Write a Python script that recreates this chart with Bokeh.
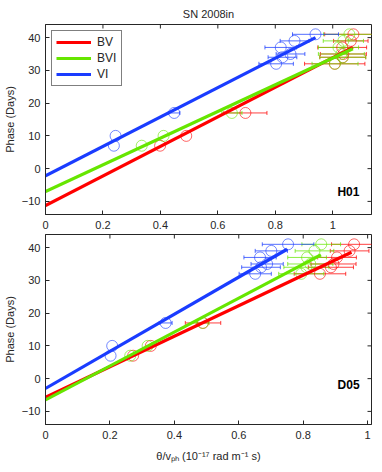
from bokeh.plotting import figure
from bokeh.models import (ColumnDataSource, Whisker, TeeHead, FixedTicker,
                          Legend, LegendItem, Label, Range1d)
from bokeh.layouts import column
from bokeh.embed import file_html
from bokeh.resources import INLINE
import math

# ---------------- data ----------------
phase = [7, 10, 17, 32, 34, 35, 37, 39, 41]

# H01 panel
h01_vi_x = [0.238, 0.244, 0.448, 0.803, 0.825, 0.853, 0.819, 0.867, 0.940]
h01_vi_err = [0.0, 0.0, 0.02, 0.06, 0.05, 0.05, 0.055, 0.05, 0.08]
h01_bv_x = [0.399, 0.490, 0.696, 1.007, 1.035, 1.037, 1.033, 1.063, 1.072]
h01_bv_err = [0.0, 0.0, 0.075, 0.105, 0.08, 0.08, 0.085, 0.06, 0.10]
h01_bvi_x = [0.335, 0.411, 0.649, 1.008, 1.035, 1.030, 1.020, 1.037, 1.058]
h01_bvi_err = [0.0, 0.0, 0.035, 0.08, 0.08, 0.08, 0.07, 0.07, 0.09]

h01_vi_line_x = [0.0, 0.94]
h01_vi_line_y = [-2.2, 40.0]
h01_bv_line_x = [0.0, 1.07]
h01_bv_line_y = [-11.3, 37.0]
h01_bvi_line_x = [0.0, 1.07]
h01_bvi_line_y = [-7.0, 36.6]

# D05 panel
d05_vi_x = [0.202, 0.207, 0.373, 0.651, 0.669, 0.688, 0.666, 0.701, 0.753]
d05_vi_err = [0.0, 0.0, 0.02, 0.05, 0.06, 0.05, 0.05, 0.05, 0.08]
d05_bv_x = [0.272, 0.327, 0.489, 0.852, 0.886, 0.894, 0.905, 0.944, 0.958]
d05_bv_err = [0.0, 0.0, 0.055, 0.08, 0.07, 0.07, 0.06, 0.06, 0.07]
d05_bvi_x = [0.263, 0.317, 0.488, 0.794, 0.810, 0.822, 0.812, 0.835, 0.856]
d05_bvi_err = [0.0, 0.0, 0.02, 0.07, 0.07, 0.07, 0.06, 0.06, 0.06]

d05_vi_line_x = [0.0, 0.75]
d05_vi_line_y = [-3.0, 39.5]
d05_bv_line_x = [0.0, 0.95]
d05_bv_line_y = [-5.7, 38.6]
d05_bvi_line_x = [0.0, 0.855]
d05_bvi_line_y = [-6.5, 37.8]

series_names = ["BV", "BVI", "VI"]
x_ticks = [0, 0.2, 0.4, 0.6, 0.8, 1]
x_tick_labels = ["0", "0.2", "0.4", "0.6", "0.8", "1"]
y_ticks = [-10, 0, 10, 20, 30, 40]

RED = "#ff0000"
GREEN = "#66e600"
BLUE = "#1a3cff"
FONT = "Liberation Sans"
INK = "#262626"


def style_axes(p):
    for ax in p.xaxis + p.yaxis:
        ax.major_tick_in = 4
        ax.major_tick_out = 0
        ax.minor_tick_line_color = None
        ax.major_label_text_font = FONT
        ax.major_label_text_font_size = "11px"
        ax.major_label_text_color = INK
        ax.axis_line_color = INK
        ax.major_tick_line_color = INK
        ax.axis_label_text_font = FONT
        ax.axis_label_text_font_size = "11px"
        ax.axis_label_text_font_style = "normal"
        ax.axis_label_text_color = INK
        ax.axis_label_standoff = 3
    p.xaxis.ticker = FixedTicker(ticks=x_ticks)
    p.xaxis.major_label_overrides = {t: l for t, l in zip(x_ticks, x_tick_labels)}
    p.yaxis.ticker = FixedTicker(ticks=y_ticks)
    p.xaxis.major_label_standoff = 6
    p.yaxis.major_label_standoff = 5
    p.grid.visible = False
    p.outline_line_color = INK
    # mirrored inward ticks on top and right edges of the box
    p.scatter(x_ticks, [p.y_range.end] * len(x_ticks), marker="dash", angle=math.pi / 2,
              size=8, line_color=INK, line_width=1)
    p.scatter([p.x_range.end] * len(y_ticks), y_ticks, marker="dash",
              size=8, line_color=INK, line_width=1)


def draw_panel(p, xs, errs, lines, tag, tag_x, tag_y):
    colors = [RED, GREEN, BLUE]
    renderers = []
    for x, e, c in zip(xs, errs, colors):
        idx = [i for i, v in enumerate(e) if v > 0]
        wsrc = ColumnDataSource(dict(y=[phase[i] for i in idx],
                                     lo=[x[i] - e[i] for i in idx],
                                     hi=[x[i] + e[i] for i in idx]))
        w = Whisker(source=wsrc, base="y", lower="lo", upper="hi", dimension="width",
                    line_color=c, line_width=1, line_alpha=0.75,
                    upper_head=TeeHead(size=4, line_color=c, line_width=1, line_alpha=0.75),
                    lower_head=TeeHead(size=4, line_color=c, line_width=1, line_alpha=0.75))
        p.add_layout(w)
        p.scatter(x, phase, marker="circle", size=11, fill_color=None,
                  line_color=c, line_width=1, line_alpha=0.6)
    for (lx, ly), c in zip(lines, colors):
        r = p.line(lx, ly, line_color=c, line_width=3.2)
        renderers.append(r)
    p.add_layout(Label(x=tag_x, y=tag_y, text=tag,
                       text_font=FONT, text_font_size="12px", text_font_style="bold",
                       text_align="right", text_baseline="middle", text_color="black"))
    return renderers


# ---------------- top panel ----------------
p1 = figure(frame_width=326, frame_height=190, x_range=Range1d(0, 1.135),
            y_range=Range1d(-14, 44), output_backend="svg", toolbar_location=None,
            min_border_left=42, min_border_right=1, min_border_top=19, min_border_bottom=20,
            title="SN 2008in")
p1.title.align = "center"
p1.title.text_font = FONT
p1.title.text_font_size = "11px"
p1.title.text_font_style = "normal"
p1.title.text_color = INK
p1.yaxis.axis_label = "Phase (Days)"
style_axes(p1)
r1 = draw_panel(p1, [h01_bv_x, h01_bvi_x, h01_vi_x], [h01_bv_err, h01_bvi_err, h01_vi_err],
                [(h01_bv_line_x, h01_bv_line_y), (h01_bvi_line_x, h01_bvi_line_y),
                 (h01_vi_line_x, h01_vi_line_y)], "H01", 1.093, -7)
legend = Legend(items=[LegendItem(label=n, renderers=[r]) for n, r in zip(series_names, r1)],
                location="top_left", glyph_width=35, glyph_height=14, label_height=14,
                spacing=2, padding=4, margin=6, label_text_font=FONT,
                label_text_font_size="12px", label_text_color=INK,
                border_line_color="black", border_line_width=1, label_standoff=6)
p1.add_layout(legend)

# ---------------- bottom panel ----------------
p2 = figure(frame_width=326, frame_height=190, x_range=Range1d(0, 1.012),
            y_range=Range1d(-14, 44), output_backend="svg", toolbar_location=None,
            min_border_left=42, min_border_right=1, min_border_top=0, min_border_bottom=40)
p2.yaxis.axis_label = "Phase (Days)"
p2.xaxis.axis_label = "θ/vₚₕ (10⁻¹⁷ rad m⁻¹ s)"
style_axes(p2)
p2.xaxis.axis_label_standoff = 8
draw_panel(p2, [d05_bv_x, d05_bvi_x, d05_vi_x], [d05_bv_err, d05_bvi_err, d05_vi_err],
           [(d05_bv_line_x, d05_bv_line_y), (d05_bvi_line_x, d05_bvi_line_y),
            (d05_vi_line_x, d05_vi_line_y)], "D05", 0.975, -2)

layout = column(p1, p2, spacing=0)
open("out.html", "w").write(file_html(layout, INLINE))
